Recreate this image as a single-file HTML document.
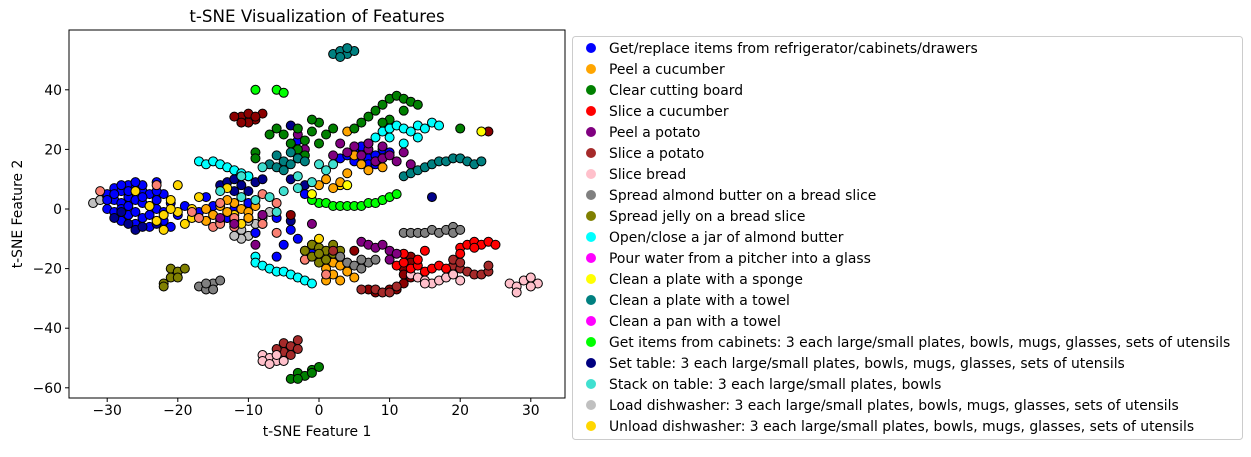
<!DOCTYPE html>
<html><head><meta charset="utf-8">
<style>
body{margin:0;background:#fff;font-family:"DejaVu Sans","Liberation Sans",sans-serif;}
svg text{font-family:"DejaVu Sans","Liberation Sans",sans-serif;}
</style></head>
<body>
<svg id="chart" width="1251" height="453" viewBox="0 0 1251 453" xmlns="http://www.w3.org/2000/svg">
<g id="plot"></g>
<g id="axes"></g>
<g id="legend"></g>
</svg>
<script>
const xTicks=[-30,-20,-10,0,10,20,30];
const yTicks=[-60,-40,-20,0,20,40];
const legendLabels=["Get/replace items from refrigerator/cabinets/drawers","Peel a cucumber","Clear cutting board","Slice a cucumber","Peel a potato","Slice a potato","Slice bread","Spread almond butter on a bread slice","Spread jelly on a bread slice","Open/close a jar of almond butter","Pour water from a pitcher into a glass","Clean a plate with a sponge","Clean a plate with a towel","Clean a pan with a towel","Get items from cabinets: 3 each large/small plates, bowls, mugs, glasses, sets of utensils","Set table: 3 each large/small plates, bowls, mugs, glasses, sets of utensils","Stack on table: 3 each large/small plates, bowls","Load dishwasher: 3 each large/small plates, bowls, mugs, glasses, sets of utensils","Unload dishwasher: 3 each large/small plates, bowls, mugs, glasses, sets of utensils"];
const legendColors=["#0000ff","#ffa500","#008000","#ff0000","#800080","#a52a2a","#ffc0cb","#808080","#808000","#00ffff","#ff00ff","#ffff00","#008080","#ff00ff","#00ff00","#000080","#40e0d0","#c0c0c0","#ffd700"];
const ptsSilver=[[-32,2],[-31,3],[-30,4],[-13,-3],[-12,-5],[-11,-7],[-10,-9],[-9,-8],[-11,-10],[-8,-3],[-7,-1],[-9,-5],[-10,-4],[-12,-9]];
const ptsBlue=[[-30,5],[-29,7],[-28,6],[-27,8],[-26,7],[-25,6],[-24,5],[-23,9],[-29,3],[-28,2],[-27,4],[-26,3],[-25,2],[-24,1],[-23,3],[-22,5],[-30,0],[-29,-1],[-28,0],[-27,-2],[-26,-1],[-25,-3],[-24,-2],[-23,0],[-22,-1],[-21,2],[-28,-4],[-26,-5],[-24,-6],[-22,-4],[-20,-2],[-19,1],[-17,-1],[-15,1],[-13,-3],[-12,0],[-16,4],[-27,6],[-25,8],[-30,3],[-21,-6],[-10,2],[-8,-2],[-6,-3],[-4,-7],[-5,-12],[-3,-10],[-9,-8],[-2,-14],[3,17],[4,18],[5,16],[6,19],[7,17],[8,18],[9,20],[10,19],[5,20],[7,15],[6,21],[8,15],[-2,5],[-1,-12],[-6,-16],[2,-17],[-1,-15],[-3,23],[-29,5],[-27,1],[-25,4],[-23,6],[-26,9],[-28,8]];
const ptsNavy=[[-14,8],[-13,9],[-12,10],[-11,8],[-10,11],[-9,9],[-8,10],[-12,6],[-10,6],[-29,-3],[-27,-5],[-26,-7],[-25,-6],[-23,-5],[-28,-1],[-4,28],[-4,10],[-3,17],[-2,8],[-4,-4],[16,4],[-10,-3]];
const ptsGold=[[-26,6],[-24,1],[-23,-4],[-22,-7],[-21,3],[-20,-1],[-19,-5],[-18,0],[-17,4],[-20,8],[-22,-2],[-18,-3],[-13,7],[-12,-2],[-11,-5],[-21,0],[3,8],[0,-10]];
const ptsOrange=[[-16,0],[-15,-2],[-14,1],[-13,-1],[-12,2],[-11,0],[-10,-1],[-9,1],[-14,-4],[-12,-4],[-10,-3],[-16,-4],[-13,3],[-8,-5],[5,18],[6,15],[7,13],[8,16],[9,14],[4,12],[3,9],[1,10],[2,7],[0,8],[0,-17],[1,-20],[2,-22],[3,-24],[4,-21],[5,-23],[1,-24],[2,-18],[3,-19],[4,-18],[4,26],[-2,-17]];
const ptsYellow=[[4,8],[23,26],[-1,5]];
const ptsSalmon=[[-31,6],[-23,8],[-17,-3],[-15,-6],[-14,-5],[-12,-6],[-8,5],[-8,-5],[-6,-8],[-2,-17],[-12,-3],[1,-22],[-18,-1],[-6,2],[-14,2]];
const ptsOlive=[[-21,-20],[-20,-21],[-19,-20],[-21,-23],[-22,-25],[-22,-26],[-20,-23],[-1,-12],[0,-13],[1,-14],[2,-15],[-1,-16],[0,-18],[1,-17],[-2,-14],[2,-12],[3,-14],[0,-15]];
const ptsGray=[[-17,-26],[-16,-27],[-15,-25],[-14,-24],[-15,-27],[-16,-25],[3,-16],[4,-18],[5,-19],[6,-20],[7,-18],[8,-17],[6,-17],[12,-8],[13,-8],[14,-8],[15,-8],[16,-7],[17,-8],[18,-7],[19,-6],[19,-8],[20,-7]];
const ptsCyan=[[-17,16],[-16,15],[-15,16],[-14,15],[-13,14],[-12,13],[-11,12],[-10,11],[-9,-16],[-9,-18],[-8,-19],[-7,-20],[-6,-21],[-5,-21],[-4,-22],[-3,-23],[-2,-24],[-1,-25],[7,22],[8,24],[9,26],[10,27],[11,28],[12,27],[13,26],[14,28],[15,27],[16,29],[17,28],[10,24],[12,22],[14,24]];
const ptsDarkred=[[-11,31],[-10,32],[-9,30],[-10,29],[-11,29],[-8,32],[-12,31],[-9,31],[13,-16],[13,-18],[12,-20],[12,-22],[13,-23],[12,-25],[11,-27],[10,-27],[8,-28],[7,-27],[5,-14],[24,26],[-4,-2]];
const ptsBrown=[[-5,-45],[-4,-46],[-3,-47],[-5,-48],[-4,-49],[-6,-47],[-3,-44],[8,-27],[9,-28],[10,-28],[11,-26],[6,-27],[19,-19],[20,-20],[21,-21],[22,-22],[23,-22],[24,-21],[19,-17],[20,-18],[24,-19],[2,-14]];
const ptsPink=[[-8,-49],[-7,-50],[-6,-51],[-8,-51],[-7,-52],[-5,-51],[-6,-49],[13,-22],[14,-23],[15,-24],[16,-25],[17,-24],[18,-23],[19,-22],[20,-24],[15,-25],[27,-25],[28,-26],[29,-24],[30,-23],[31,-25],[28,-28],[30,-26]];
const ptsRed=[[11,-19],[12,-18],[13,-20],[14,-19],[15,-21],[16,-20],[17,-19],[18,-20],[14,-17],[12,-15],[15,-14],[20,-13],[21,-12],[22,-11],[23,-12],[24,-11],[20,-15],[25,-12],[22,-13]];
const ptsPurple=[[4,19],[5,21],[6,18],[7,20],[8,16],[9,17],[10,18],[11,16],[12,19],[3,22],[2,18],[7,22],[9,21],[13,15],[-2,20],[-3,25],[-12,-5],[-14,-3],[-8,-2],[-9,-12],[6,-11],[7,-12],[8,-13],[9,-12],[10,-14],[11,-15],[10,-17],[-1,-5]];
const ptsGreen=[[-7,25],[-6,27],[-5,25],[-4,22],[-3,20],[-2,23],[-1,26],[0,29],[-1,30],[-3,27],[-2,18],[0,22],[1,25],[2,27],[-9,19],[-9,17],[5,27],[6,29],[7,31],[8,33],[9,35],[10,37],[11,38],[12,37],[13,36],[14,35],[12,33],[10,30],[9,29],[20,27],[-4,-57],[-3,-55],[-2,-56],[-1,-54],[0,-53],[-3,-57],[-1,-55]];
const ptsTeal=[[2,52],[3,53],[4,52],[5,53],[3,51],[4,54],[-7,15],[-6,14],[-5,16],[-4,15],[-3,17],[-2,16],[-5,13],[-4,19],[-6,18],[12,11],[13,12],[14,13],[15,14],[16,15],[17,16],[18,16],[19,17],[20,17],[21,16],[22,15],[23,16]];
const ptsLime=[[-9,40],[-6,40],[-5,39],[0,2],[1,2],[2,1],[3,1],[4,1],[5,1],[6,1],[7,2],[8,2],[9,3],[10,4],[11,5],[-1,3]];
const ptsTurq=[[-14,6],[-11,4],[-9,3],[-7,4],[-5,6],[-3,7],[-1,9],[1,13],[-8,14],[0,15],[2,15],[-11,11],[-6,-1],[-3,11]];

const NS="http://www.w3.org/2000/svg";
const L=69,R=565,T=30,B=398;
function X(v){return 319+7.06*v;}
function Y(v){return 209-2.98*v;}
function mk(tag,attrs,parent){const e=document.createElementNS(NS,tag);for(const k in attrs)e.setAttribute(k,attrs[k]);parent.appendChild(e);return e;}
const plot=document.getElementById('plot'),axes=document.getElementById('axes'),leg=document.getElementById('legend');
const series=[[ptsSilver,"#c0c0c0"],[ptsBlue,"#0000ff"],[ptsNavy,"#00008b"],[ptsGold,"#ffd700"],[ptsOrange,"#ffa500"],[ptsSalmon,"#fa8072"],[ptsOlive,"#808000"],[ptsGray,"#808080"],[ptsCyan,"#00ffff"],[ptsDarkred,"#8b0000"],[ptsBrown,"#a52a2a"],[ptsPink,"#ffc0cb"],[ptsRed,"#ff0000"],[ptsPurple,"#800080"],[ptsGreen,"#008000"],[ptsTeal,"#008080"],[ptsLime,"#00ff00"],[ptsTurq,"#40e0d0"],[ptsYellow,"#ffff00"]];
series.forEach(([pts,c])=>{pts.forEach(p=>{
 const e=mk('circle',{cx:X(p[0]),cy:Y(p[1]),r:4.5,fill:c,stroke:'#000','stroke-width':1},plot);
 
 
});});
const fr=mk('rect',{x:L,y:T,width:R-L,height:B-T,fill:'none',stroke:'#000','stroke-width':1},axes);


xTicks.forEach(t=>{
 mk('line',{x1:X(t),x2:X(t),y1:B,y2:B+4,stroke:'#000'},axes);
 const tx=mk('text',{x:X(t),y:B+17,'text-anchor':'middle','font-size':13.9},axes);tx.textContent=(t<0?'\u2212'+(-t):t);
 
 
});
yTicks.forEach(t=>{
 mk('line',{x1:L-4,x2:L,y1:Y(t),y2:Y(t),stroke:'#000'},axes);
 const tx=mk('text',{x:L-7,y:Y(t)+5,'text-anchor':'end','font-size':13.9},axes);tx.textContent=(t<0?'\u2212'+(-t):t);
 
 
});
let e=mk('text',{x:317,y:436,'text-anchor':'middle','font-size':13.9},axes);e.textContent='t-SNE Feature 1';


e=mk('text',{x:22,y:214,'text-anchor':'middle','font-size':13.9,transform:'rotate(-90 22 214)'},axes);e.textContent='t-SNE Feature 2';


e=mk('text',{x:317,y:22,'text-anchor':'middle','font-size':16.7},axes);e.textContent='t-SNE Visualization of Features';


const lb=mk('rect',{x:572.5,y:36.5,width:670,height:403,rx:3,fill:'#fff',stroke:'#ccc'},leg);


legendLabels.forEach((s,i)=>{
 const y=48+i*21;
 const g=mk('g',{},leg);
 
 
 mk('circle',{cx:591,cy:y,r:5,fill:legendColors[i]},g);
 const t=mk('text',{x:609,y:y+5,'font-size':13.9},g);t.textContent=s;
});
</script>
</body></html>
